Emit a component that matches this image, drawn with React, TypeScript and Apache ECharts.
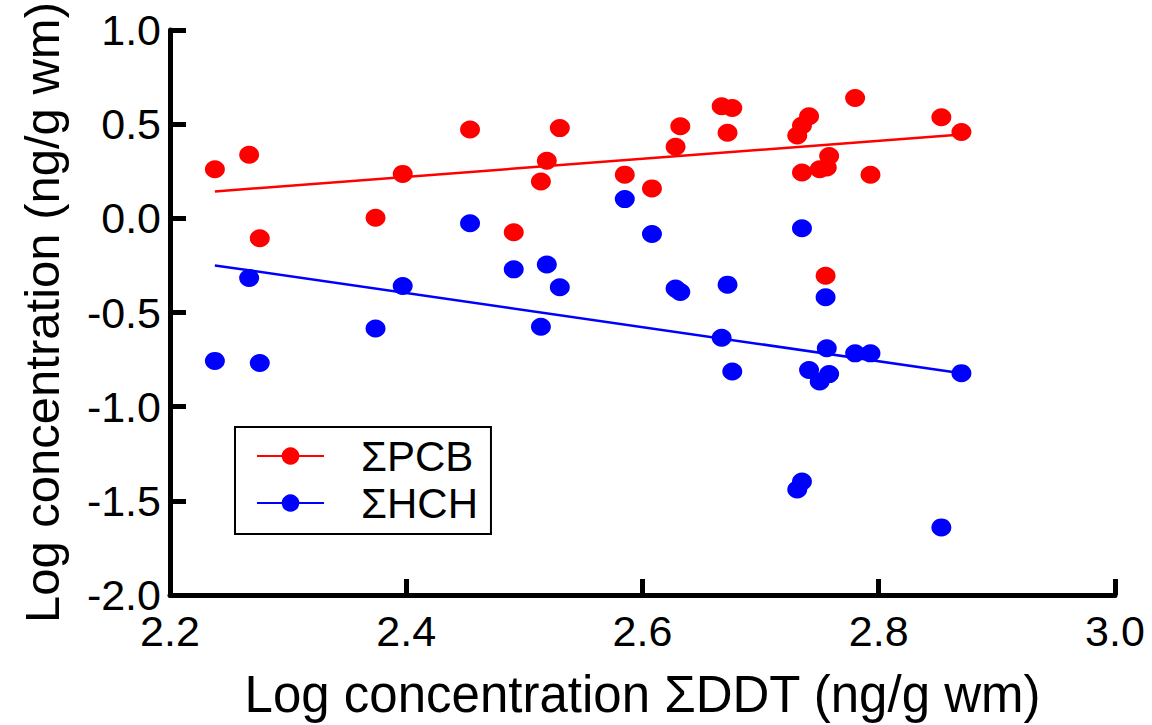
import React, { useEffect, useRef } from "react";
import * as echarts from "echarts";

// Log ΣDDT (x) for each sample
const ddt = [
  2.238, 2.267, 2.276, 2.374, 2.397, 2.454, 2.491, 2.514, 2.519, 2.53,
  2.585, 2.608, 2.628, 2.632, 2.667, 2.672, 2.676, 2.731, 2.735, 2.741,
  2.735, 2.75, 2.756, 2.758, 2.755, 2.78, 2.793, 2.853, 2.87,
];
// Log ΣPCB
const pcb = [
  0.261, 0.338, -0.106, 0.003, 0.236, 0.472, -0.074, 0.196, 0.306, 0.479,
  0.232, 0.159, 0.38, 0.489, 0.595, 0.454, 0.586, 0.44, 0.493, 0.542,
  0.243, 0.261, 0.27, 0.331, -0.305, 0.639, 0.231, 0.537, 0.458,
];
// Log ΣHCH
const hch = [
  -0.757, -0.317, -0.768, -0.585, -0.359, -0.026, -0.271, -0.576, -0.245, -0.366,
  0.102, -0.083, -0.373, -0.391, -0.634, -0.352, -0.813, -1.44, -1.398, -0.805,
  -0.053, -0.866, -0.69, -0.827, -0.419, -0.717, -0.717, -1.641, -0.822,
];
// fitted regression line end points
const pcbFitX = [2.238, 2.87];
const pcbFitY = [0.143, 0.445];
const hchFitX = [2.238, 2.87];
const hchFitY = [-0.25, -0.822];

const xTicks = { min: 2.2, max: 3.0, interval: 0.2 };
const yTicks = { min: -2.0, max: 1.0, interval: 0.5 };

const FONT = "'Liberation Sans', Arial, Helvetica, sans-serif";

export default function App() {
  const ref = useRef<HTMLDivElement>(null);
  useEffect(() => {
    if (!ref.current) return;
    const chart = echarts.init(ref.current, undefined, { renderer: "svg" });
    const pair = (xs: number[], ys: number[]) => xs.map((x, i) => [x, ys[i]]);
    const axisCommon = {
      axisLine: { show: true, onZero: false, lineStyle: { color: "#000", width: 5 } },
      axisTick: { show: true, inside: true, length: 16, lineStyle: { color: "#000", width: 5 } },
      splitLine: { show: false },
    };
    chart.setOption({
      animation: false,
      backgroundColor: "#fff",
      textStyle: { fontFamily: FONT },
      grid: { left: 170, top: 30, width: 945, height: 568, containLabel: false },
      xAxis: {
        type: "value",
        ...xTicks,
        ...axisCommon,
        name: "Log concentration ΣDDT (ng/g wm)",
        nameLocation: "middle",
        nameGap: 74,
        nameTextStyle: { color: "#000", fontSize: 51, fontFamily: FONT },
        axisLabel: {
          color: "#000",
          fontSize: 43,
          lineHeight: 36,
          fontFamily: FONT,
          margin: 18,
          formatter: (v: number) => v.toFixed(1),
        },
      },
      yAxis: {
        type: "value",
        ...yTicks,
        ...axisCommon,
        name: "Log concentration (ng/g wm)",
        nameLocation: "middle",
        nameGap: 104,
        nameTextStyle: { color: "#000", fontSize: 49, fontFamily: FONT },
        axisLabel: {
          color: "#000",
          fontSize: 43,
          lineHeight: 32,
          fontFamily: FONT,
          margin: 9,
          formatter: (v: number) => v.toFixed(1),
        },
      },
      legend: {
        orient: "vertical",
        left: 235,
        top: 427,
        itemWidth: 67,
        itemHeight: 22,
        itemGap: 5,
        padding: [8, 13, 10, 21],
        borderColor: "#000",
        borderWidth: 2,
        textStyle: { color: "#000", fontSize: 42, fontFamily: FONT, padding: [0, 0, 0, 32], lineHeight: 40 },
        data: ["ΣPCB", "ΣHCH"],
      },
      series: [
        {
          name: "ΣPCB",
          type: "line",
          data: pair(pcbFitX, pcbFitY),
          showSymbol: false,
          symbol: "circle",
          lineStyle: { color: "#ff0000", width: 2.5 },
          itemStyle: { color: "#ff0000" },
          z: 2,
        },
        {
          name: "ΣHCH",
          type: "line",
          data: pair(hchFitX, hchFitY),
          showSymbol: false,
          symbol: "circle",
          lineStyle: { color: "#0000ff", width: 2.5 },
          itemStyle: { color: "#0000ff" },
          z: 2,
        },
        {
          name: "ΣPCB",
          type: "scatter",
          data: pair(ddt, pcb),
          symbol: "circle",
          symbolSize: [20, 18],
          itemStyle: { color: "#ff0000", opacity: 1 },
          z: 3,
        },
        {
          name: "ΣHCH",
          type: "scatter",
          data: pair(ddt, hch),
          symbol: "circle",
          symbolSize: [20, 18],
          itemStyle: { color: "#0000ff", opacity: 1 },
          z: 3,
        },
      ],
    });
    return () => chart.dispose();
  }, []);
  return (
    <div
      ref={ref}
      style={{ position: "fixed", left: 0, top: 0, width: 1152, height: 725, background: "#fff" }}
    />
  );
}
